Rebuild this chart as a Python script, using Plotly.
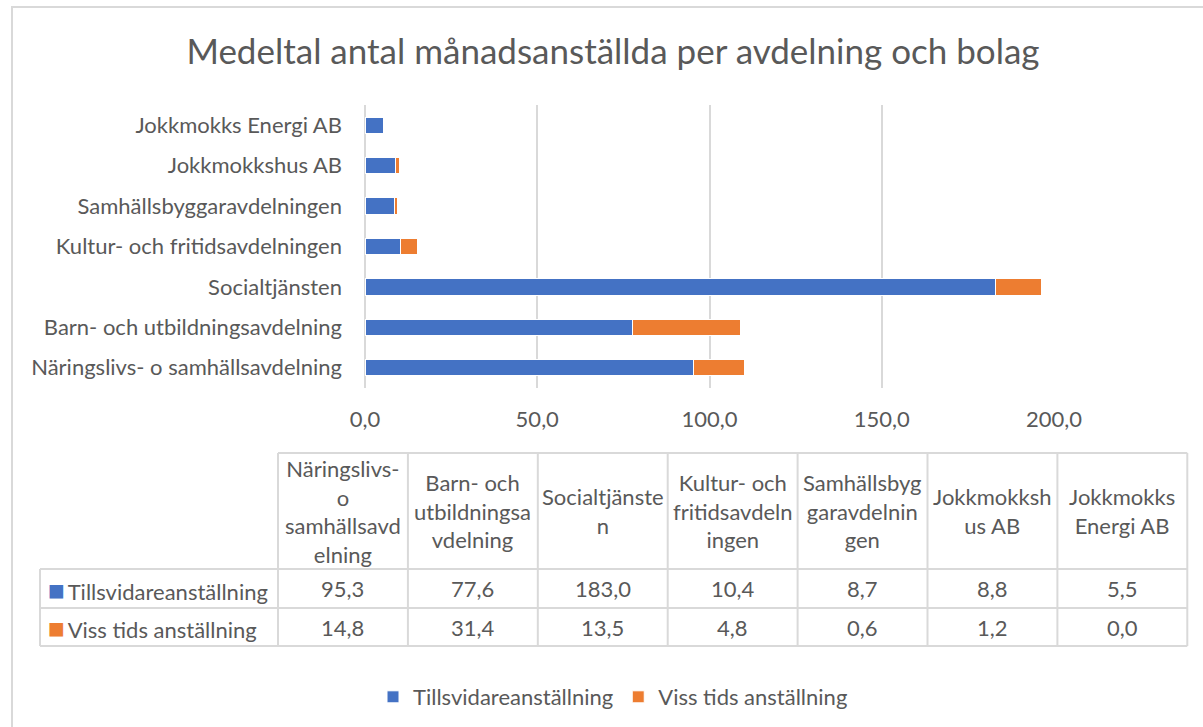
import plotly.graph_objects as go

# Categories, bottom to top on the bar chart (same order as the data table).
categories = [
    "Näringslivs- o samhällsavdelning",
    "Barn- och utbildningsavdelning",
    "Socialtjänsten",
    "Kultur- och fritidsavdelningen",
    "Samhällsbyggaravdelningen",
    "Jokkmokkshus AB",
    "Jokkmokks Energi AB",
]
# Header labels as wrapped in the data table.
table_headers = [
    "Näringslivs-<br>o<br>samhällsavd<br>elning",
    "Barn- och<br>utbildningsa<br>vdelning",
    "Socialtjänste<br>n",
    "Kultur- och<br>fritidsavdeln<br>ingen",
    "Samhällsbyg<br>garavdelnin<br>gen",
    "Jokkmokksh<br>us AB",
    "Jokkmokks<br>Energi AB",
]
series_names = ["Tillsvidareanställning", "Viss tids anställning"]
tillsvidare = [95.3, 77.6, 183.0, 10.4, 8.7, 8.8, 5.5]
viss_tid = [14.8, 31.4, 13.5, 4.8, 0.6, 1.2, 0.0]
x_ticks = [0, 50, 100, 150, 200]

BLUE = "#4472C4"
ORANGE = "#ED7D31"
INK = "#595959"
GRID = "#D9D9D9"
FONT = "Lato"

W, H = 1203, 727

# Data-table geometry in pixels (layout only).
TABLE_LEFT = 40
KEY_COL_RIGHT = 278
COL_W = 129.9
HEADER_TOP, HEADER_BOTTOM = 453, 569
ROW_EDGES = [569, 608, 646]


def px_x(p):
    return p / W


def px_y(p):
    return 1 - p / H


def fmt(v):
    return f"{v:.1f}".replace(".", ",")


fig = go.Figure()
for name, vals, col in [(series_names[0], tillsvidare, BLUE), (series_names[1], viss_tid, ORANGE)]:
    fig.add_bar(
        x=vals,
        y=categories,
        orientation="h",
        name=name,
        marker=dict(color=col, line=dict(color="white", width=1)),
    )

# ---- data table drawn with shapes + annotations ----
shapes = []
annotations = []
n_cols = len(table_headers)
col_edges = [KEY_COL_RIGHT + i * COL_W for i in range(n_cols + 1)]
table_right = col_edges[-1]


def hline(y, x0, x1):
    shapes.append(dict(type="line", xref="paper", yref="paper",
                       x0=px_x(x0), x1=px_x(x1), y0=px_y(y), y1=px_y(y),
                       line=dict(color=GRID, width=2)))


def vline(x, y0, y1):
    shapes.append(dict(type="line", xref="paper", yref="paper",
                       x0=px_x(x), x1=px_x(x), y0=px_y(y0), y1=px_y(y1),
                       line=dict(color=GRID, width=2)))


hline(HEADER_TOP, KEY_COL_RIGHT, table_right)
for y in ROW_EDGES:
    hline(y, TABLE_LEFT, table_right)
vline(TABLE_LEFT, ROW_EDGES[0], ROW_EDGES[-1])
for x in col_edges:
    vline(x, HEADER_TOP, ROW_EDGES[-1])

cell_font = dict(family=FONT, size=22, color=INK)
for i, label in enumerate(table_headers):
    cx = (col_edges[i] + col_edges[i + 1]) / 2
    annotations.append(dict(xref="paper", yref="paper", x=px_x(cx),
                            y=px_y((HEADER_TOP + HEADER_BOTTOM) / 2),
                            text=label, showarrow=False, align="center",
                            xanchor="center", yanchor="middle", font=cell_font))

for r, (name, vals, col) in enumerate([(series_names[0], tillsvidare, BLUE),
                                        (series_names[1], viss_tid, ORANGE)]):
    cy = (ROW_EDGES[r] + ROW_EDGES[r + 1]) / 2
    annotations.append(dict(xref="paper", yref="paper", x=px_x(TABLE_LEFT + 6),
                            y=px_y(cy),
                            text=f"<span style='color:{col};font-size:28px'>■</span>\u2009{name}",
                            showarrow=False, xanchor="left", yanchor="middle",
                            font=cell_font))
    for i, v in enumerate(vals):
        cx = (col_edges[i] + col_edges[i + 1]) / 2
        annotations.append(dict(xref="paper", yref="paper", x=px_x(cx), y=px_y(cy),
                                text=fmt(v), showarrow=False, xanchor="center",
                                yanchor="middle", font=cell_font))

# chart-area border
shapes.append(dict(type="rect", xref="paper", yref="paper",
                   x0=px_x(12), x1=1.02, y0=-0.02, y1=px_y(7),
                   line=dict(color=GRID, width=2), fillcolor="rgba(0,0,0,0)",
                   layer="below"))

fig.update_layout(
    width=W,
    height=H,
    margin=dict(l=0, r=0, t=0, b=0, autoexpand=False),
    paper_bgcolor="white",
    plot_bgcolor="white",
    barmode="stack",
    bargap=0.6,
    separators=",.",
    font=dict(family=FONT, color=INK),
    title=dict(
        text="Medeltal antal månadsanställda per avdelning och bolag",
        x=px_x(613),
        xanchor="center",
        y=px_y(52),
        yanchor="middle",
        font=dict(family=FONT, size=35, color=INK),
    ),
    xaxis=dict(
        domain=[px_x(365), px_x(1054)],
        range=[0, 200],
        tickvals=x_ticks,
        tickformat=".1f",
        showgrid=True,
        gridcolor=GRID,
        gridwidth=2,
        zeroline=True,
        zerolinecolor=GRID,
        zerolinewidth=2,
        showline=False,
        ticks="",
        ticklabelstandoff=16,
        tickfont=dict(family=FONT, size=22, color=INK),
        anchor="y",
        automargin=False,
    ),
    yaxis=dict(
        domain=[px_y(388), px_y(105)],
        showgrid=False,
        showline=False,
        ticks="",
        ticklabelstandoff=22,
        tickfont=dict(family=FONT, size=22, color=INK),
        automargin=False,
    ),
    legend=dict(
        orientation="h",
        x=px_x(613),
        xanchor="center",
        y=px_y(697),
        yanchor="middle",
        font=dict(family=FONT, size=22, color=INK),
        itemwidth=30,
        traceorder="normal",
    ),
    shapes=shapes,
    annotations=annotations,
)

fig.write_html(
    "out.html",
    config={"displayModeBar": False},
    post_script="document.body.style.margin='0';document.body.style.overflow='hidden';",
)
